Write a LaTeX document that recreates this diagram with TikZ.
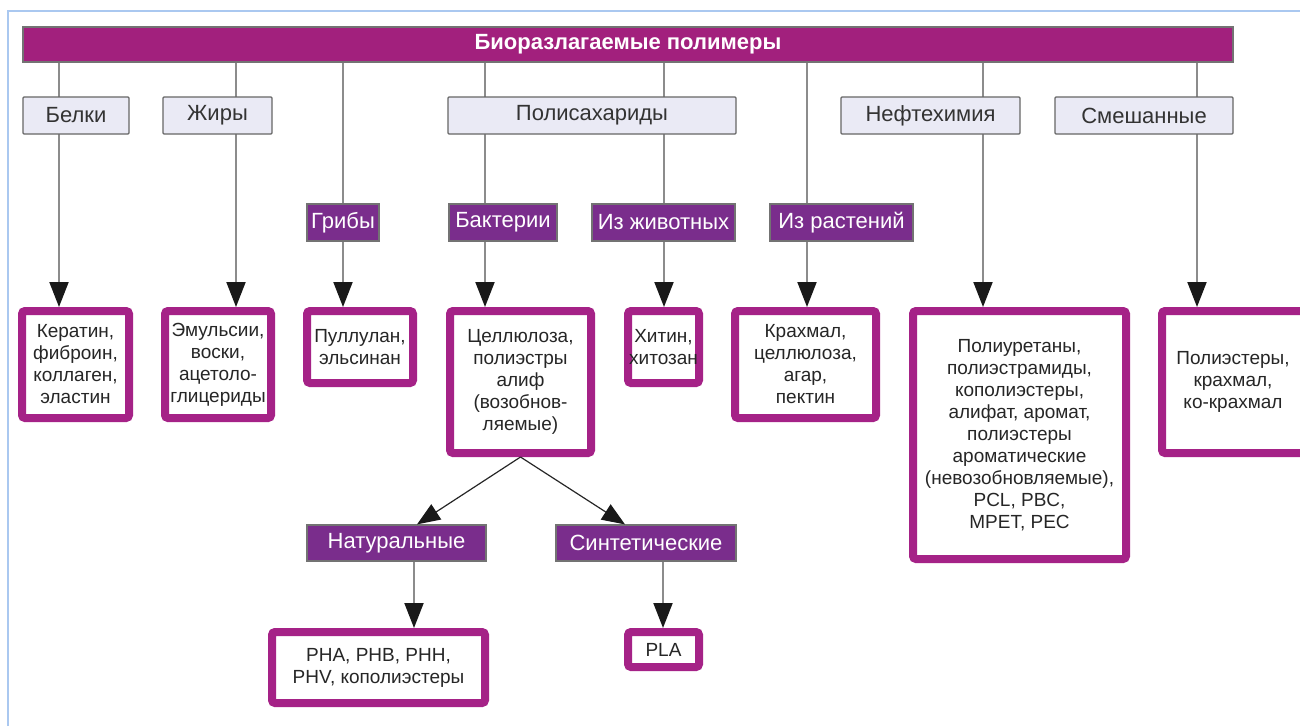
\documentclass[tikz,border=0pt]{standalone}
\usepackage{fontspec}
\setmainfont{Liberation Sans}
\usetikzlibrary{positioning,arrows.meta,backgrounds}

\definecolor{barmag}{RGB}{162,32,125}
\definecolor{leafmag}{RGB}{165,34,135}
\definecolor{subpurp}{RGB}{122,45,140}
\definecolor{catfill}{RGB}{234,234,245}
\definecolor{framebl}{RGB}{170,200,240}

\tikzset{
  titlebar/.style={draw=black!55, line width=1.2pt, fill=barmag, text=white,
    font=\fontsize{22}{26}\selectfont\bfseries, minimum height=35pt, inner sep=0pt},
  catbox/.style={draw=black!60, line width=1.2pt, fill=catfill, text=black!80,
    font=\fontsize{22}{26}\selectfont, minimum height=37pt, inner sep=0pt, rounded corners=1pt},
  subbox/.style={draw=black!55, line width=1.2pt, fill=subpurp, text=white,
    font=\fontsize{22}{26}\selectfont, minimum height=37pt, inner sep=0pt},
  leafbox/.style={draw=leafmag, line width=8pt, fill=white, rounded corners=3pt,
    text=black!85, align=center, font=\fontsize{19}{22}\selectfont, inner sep=0pt},
  link/.style={draw=black!45, line width=2pt},
  arrowed/.style={-{Triangle[length=25pt,width=19pt,color=black!90]}},
  splitarrow/.style={draw=black!85, line width=1.2pt,
    -{Triangle[length=23pt,width=18pt,color=black!90]}},
}

\begin{document}
\begin{tikzpicture}[x=1pt,y=-1pt]
  \useasboundingbox (0,0) rectangle (1300,726);
  \draw[framebl, line width=1.5pt] (8,726) -- (8,11) -- (1300,11);

  % root
  \node[titlebar, minimum width=1210pt] (bar) at (628,44.5) {Биоразлагаемые полимеры};

  % main groups
  \node[catbox, minimum width=106pt] (belki) at (76,115.5) {Белки};
  \node[catbox, minimum width=109pt] (zhiry) at (217.5,115.5) {Жиры};
  \node[catbox, minimum width=288pt] (polysac) at (592,115.5) {Полисахариды};
  \node[catbox, minimum width=179pt] (neft) at (930.5,115.5) {Нефтехимия};
  \node[catbox, minimum width=178pt] (mixcat) at (1144,115.5) {Смешанные};

  % sources
  \node[subbox, minimum width=72pt] (griby) at (343,222.5) {Грибы};
  \node[subbox, minimum width=108pt] (bakt) at (503,222.5) {Бактерии};
  \node[subbox, minimum width=143pt] (zhiv) at (663.5,222.5) {Из животных};
  \node[subbox, minimum width=143pt] (rast) at (841.5,222.5) {Из растений};

  % products
  \node[leafbox, minimum width=107pt, minimum height=107pt] (keratin) at (75.5,364.5)
    {Кератин,\\фиброин,\\коллаген,\\эластин};
  \node[leafbox, minimum width=106pt, minimum height=107pt] (emuls) at (218,364.5)
    {Эмульсии,\\воски,\\ацетоло-\\глицериды};
  \node[leafbox, minimum width=106pt, minimum height=72pt] (pull) at (360,347)
    {Пуллулан,\\эльсинан};
  \node[leafbox, minimum width=141pt, minimum height=142pt] (cell) at (520.5,382)
    {Целлюлоза,\\полиэстры\\алиф\\(возобнов-\\ляемые)};
  \node[leafbox, minimum width=71pt, minimum height=72pt] (chitin) at (663.5,347)
    {Хитин,\\хитозан};
  \node[leafbox, minimum width=141pt, minimum height=107pt] (starch) at (805.5,364.5)
    {Крахмал,\\целлюлоза,\\агар,\\пектин};
  \node[leafbox, minimum width=213pt, minimum height=248pt] (pu) at (1019.5,435)
    {Полиуретаны,\\полиэстрамиды,\\кополиэстеры,\\алифат, аромат,\\полиэстеры\\ароматические\\(невозобновляемые),\\PCL, PBC,\\MPET, PEC};
  \node[leafbox, minimum width=150pt, minimum height=142pt] (mixed) at (1237,382)
    {\hspace*{-8pt}Полиэстеры,\\\hspace*{-8pt}крахмал,\\\hspace*{-8pt}ко-крахмал};

  % bacterial branch
  \node[subbox, minimum width=179pt, minimum height=36pt] (nat) at (396.5,543) {Натуральные};
  \node[subbox, minimum width=180pt, minimum height=36pt] (synth) at (646,543) {Синтетические};
  \node[leafbox, minimum width=213pt, minimum height=71pt] (pha) at (378.5,667.5)
    {PHA, PHB, PHH,\\PHV, кополиэстеры};
  \node[leafbox, minimum width=71pt, minimum height=35pt] (pla) at (663.5,649.5) {PLA};

  \begin{scope}[on background layer]
    \foreach \x/\t in {59/keratin,236/emuls,343/pull,485/cell,664/chitin,807/starch,983/pu,1197/mixed}
      \draw[link,arrowed] (bar.south -| \x,0) -- (\t.north -| \x,0);
  \end{scope}

  \draw[splitarrow] (cell.south) -- (nat.north -| 417,0);
  \draw[splitarrow] (cell.south) -- (synth.north -| 625,0);
  \draw[link,arrowed] (nat.south -| 414,0) -- (pha.north -| 414,0);
  \draw[link,arrowed] (synth.south -| 663,0) -- (pla.north -| 663,0);
\end{tikzpicture}
\end{document}
